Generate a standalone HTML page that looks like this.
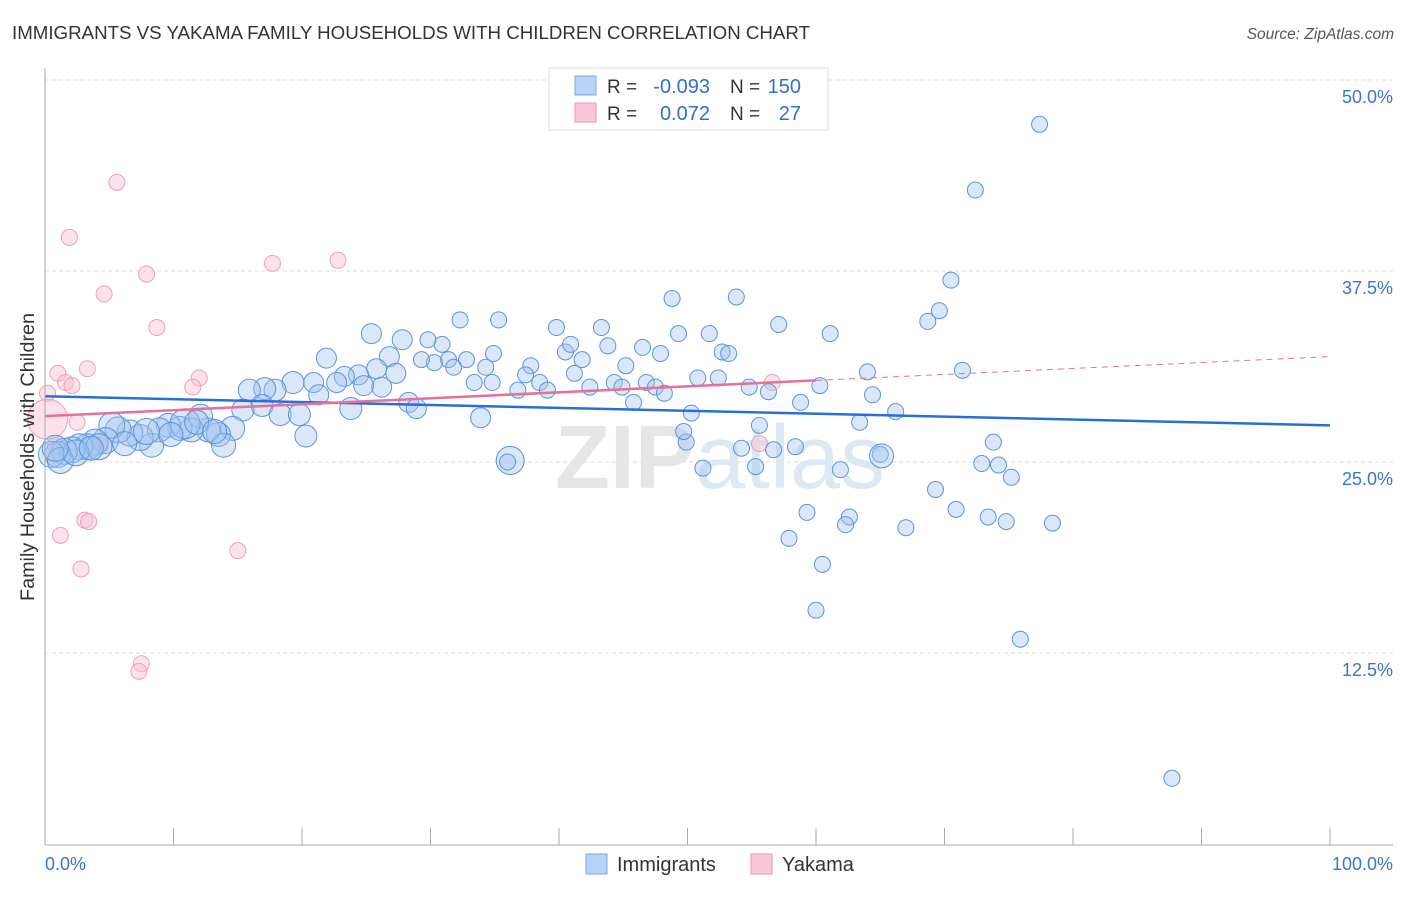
<!DOCTYPE html>
<html><head><meta charset="utf-8"><style>
body{margin:0;background:#fff;font-family:"Liberation Sans",sans-serif}
</style></head><body>
<svg width="1406" height="892" xmlns="http://www.w3.org/2000/svg">
<text x="12" y="39" font-size="18" fill="#333" textLength="798" lengthAdjust="spacingAndGlyphs">IMMIGRANTS VS YAKAMA FAMILY HOUSEHOLDS WITH CHILDREN CORRELATION CHART</text>
<text x="1394" y="39" font-size="15.5" fill="#555" font-style="italic" text-anchor="end">Source: ZipAtlas.com</text>
<g id="grid"></g>
<text x="720" y="488" font-size="90" font-weight="bold" fill="#e6e6e6" text-anchor="middle">ZIP<tspan fill="#dde8f5" font-weight="normal">atlas</tspan></text>
<g id="pts"></g>
<g id="axes"></g>
<text transform="translate(34,457) rotate(-90)" font-size="19.8" fill="#333" text-anchor="middle">Family Households with Children</text>
<g>
<rect x="549" y="68" width="279" height="62" fill="#fff" stroke="#ddd"/>
<rect x="575" y="76" width="21" height="19" fill="#b8d3f5" stroke="#7aa8e6"/>
<rect x="575" y="103" width="21" height="19" fill="#f8c6d5" stroke="#ee9ab3"/>
<text x="607" y="93" font-size="19" fill="#333">R =</text>
<text x="710" y="93" font-size="20" fill="#2f6fd0" text-anchor="end">-0.093</text>
<text x="730" y="93" font-size="19" fill="#333">N =</text>
<text x="801" y="93" font-size="20" fill="#2f6fd0" text-anchor="end">150</text>
<text x="607" y="120" font-size="19" fill="#333">R =</text>
<text x="710" y="120" font-size="20" fill="#2f6fd0" text-anchor="end">0.072</text>
<text x="730" y="120" font-size="19" fill="#333">N =</text>
<text x="801" y="120" font-size="20" fill="#2f6fd0" text-anchor="end">27</text>
</g>
<g>
<rect x="586" y="854" width="21" height="20" fill="#b8d3f5" stroke="#7aa8e6"/>
<text x="617" y="871" font-size="20" fill="#333">Immigrants</text>
<rect x="751" y="854" width="21" height="20" fill="#f8c6d5" stroke="#ee9ab3"/>
<text x="782" y="871" font-size="20" fill="#333">Yakama</text>
</g>
</svg>
<script>
const yTicks=[12.5,25,37.5,50];
const yTickLabels=["12.5%","25.0%","37.5%","50.0%"];
const xTickLabels=["0.0%","100.0%"];
const blueX=[77.4,72.4,70.5,69.6,68.7,71.4,48.8,53.8,57.1,61.1,64.0,64.4,66.2,63.4,65.0,73.8,72.9,74.2,75.2,69.3,70.9,73.4,74.8,78.4,67.0,62.6,62.3,59.3,57.9,60.5,60.0,75.9,87.7,61.9,58.4,56.7,54.2,55.3,51.2,55.6,49.9,50.3,54.8,56.3,58.8,60.3,52.4,50.8,52.7,53.2,51.7,49.3,47.9,46.5,45.2,43.3,43.8,41.8,40.5,40.9,39.8,41.2,42.4,44.3,44.9,46.8,47.5,48.2,45.8,49.7,37.8,37.4,36.8,38.5,39.1,35.3,32.3,34.9,34.3,34.8,33.4,32.8,31.4,31.8,30.9,30.3,29.8,29.3,27.8,26.8,27.3,25.4,25.8,26.2,24.4,24.8,23.3,22.7,21.9,20.9,21.3,19.3,17.9,17.1,15.9,16.9,18.3,19.8,20.3,23.8,28.3,28.9,33.9,36.2,15.4,14.6,13.5,12.7,13.9,12.1,11.4,10.5,9.6,8.9,8.3,7.4,6.6,5.7,5.2,4.7,3.9,3.3,2.7,2.1,1.5,1.0,0.5,1.2,10.9,9.8,6.2,4.2,2.4,7.9,11.8,13.2,3.6,0.8,65.1,36.0];
const blueY=[47.1,42.8,36.9,34.9,34.2,31.0,35.7,35.8,34.0,33.4,30.9,29.4,28.3,27.6,25.5,26.3,24.9,24.8,24.0,23.2,21.9,21.4,21.1,21.0,20.7,21.4,20.9,21.7,20.0,18.3,15.3,13.4,4.3,24.5,26.0,25.8,25.9,24.7,24.6,27.4,26.3,28.2,29.9,29.6,28.9,30.0,30.5,30.5,32.2,32.1,33.4,33.4,32.1,32.5,31.3,33.8,32.6,31.7,32.2,32.7,33.8,30.8,29.9,30.2,29.9,30.2,29.9,29.5,28.9,27.0,31.3,30.7,29.7,30.2,29.7,34.3,34.3,32.1,31.2,30.2,30.2,31.7,31.7,31.2,32.7,31.5,33.0,31.7,33.0,31.9,30.8,33.4,31.1,29.9,30.7,30.0,30.6,30.2,31.8,30.2,29.4,30.2,29.7,29.8,29.7,28.7,28.1,28.1,26.7,28.5,28.9,28.5,27.9,25.1,28.4,27.2,26.8,27.1,26.1,28.0,27.1,27.2,27.4,27.1,26.1,26.6,26.9,27.1,27.4,26.4,26.3,26.0,26.0,25.8,25.7,25.5,25.5,25.1,27.5,26.8,26.2,26.0,25.6,27.0,27.6,27.0,25.9,25.9,25.4,25.0];
const blueR=[8,8,8,8,8,8,8,8,8,8,8,8,8,8,8,8,8,8,8,8,8,8,8,8,8,8,8,8,8,8,8,8,8,8,8,8,8,8,8,8,8,8,8,8,8,8,8,8,8,8,8,8,8,8,8,8,8,8,8,8,8,8,8,8,8,8,8,8,8,8,8,8,8,8,8,8,8,8,8,8,8,8,8,8,8,8,8,8,10,10,10,10,10,10,10,10,10,10,10,10,10,11,11,11,11,11,11,11,11,11,10,10,10,14,11,12,12,12,12,12,12,12,12,12,12,13,13,13,13,13,13,13,13,13,13,13,13,13,15,12,12,13,13,13,12,12,12,13,12,8,10];
const pinkX=[5.6,1.9,22.8,17.7,7.9,4.6,8.7,3.3,1.0,1.6,2.1,12.0,11.5,0.2,56.6,0.2,2.5,55.6,0.8,4.3,3.1,3.4,1.2,15.0,2.8,7.5,7.3];
const pinkY=[43.3,39.7,38.2,38.0,37.3,36.0,33.8,31.1,30.8,30.2,30.0,30.5,29.9,29.5,30.2,27.8,27.6,26.2,26.1,26.1,21.2,21.1,20.2,19.2,18.0,11.8,11.3];
const pinkR=[8,8,8,8,8,8,8,8,8,8,8,8,8,8,8,20,8,8,8,8,8,8,8,8,8,8,8];
const blueTrend=[29.3,27.4];
const pinkTrend=[28.0,31.9];
const pinkSolidEnd=60;
const NS="http://www.w3.org/2000/svg";
const X0=45,X1=1330,Y50=80,PPU=15.28;
const xs=v=>X0+(X1-X0)*v/100;
const ys=v=>Y50+(50-v)*PPU;
function mk(t,a,p){const e=document.createElementNS(NS,t);for(const k in a)e.setAttribute(k,a[k]);p.appendChild(e);return e;}
const grid=document.getElementById('grid'),axes=document.getElementById('axes'),pts=document.getElementById('pts');
yTicks.forEach((v,i)=>{
 const l=mk('line',{x1:X0,x2:1393,y1:ys(v),y2:ys(v),stroke:'#dcdcdc','stroke-dasharray':'4,3'},grid);
 
 
 const t=mk('text',{x:1393,y:ys(v)+23,'font-size':18,fill:'#3a74d0','text-anchor':'end'},axes);
 t.textContent=yTickLabels[i];
 
 
});
const ax=mk('line',{x1:X0,x2:X0,y1:68,y2:845,stroke:'#aaa'},axes);


const bx=mk('line',{x1:X0,x2:1393,y1:845,y2:845,stroke:'#aaa'},axes);


for(let i=0;i<=10;i++){
 const k=mk('line',{x1:xs(i*10),x2:xs(i*10),y1:828,y2:845,stroke:'#aaa'},axes);
 
 
}
[[0,'start',X0],[1,'end',1393]].forEach(([i,a,x])=>{
 const t=mk('text',{x:x,y:870,'font-size':18,fill:'#3a74d0','text-anchor':a},axes);
 t.textContent=xTickLabels[i];
 
 
});
pinkX.forEach((v,i)=>{
 const c=mk('circle',{cx:xs(v),cy:ys(pinkY[i]),r:pinkR[i],fill:'rgba(248,190,208,0.45)',stroke:'#eea0b8','stroke-width':1},pts);
 
 
});
blueX.forEach((v,i)=>{
 const c=mk('circle',{cx:xs(v),cy:ys(blueY[i]),r:blueR[i],fill:'rgba(160,196,240,0.4)',stroke:'#5b93dd','stroke-width':1},pts);
 
 
});
const b=mk('line',{x1:xs(0),y1:ys(blueTrend[0]),x2:xs(100),y2:ys(blueTrend[1]),stroke:'#2a6fd6','stroke-width':2.5},pts);


const pm=pinkTrend[0]+(pinkTrend[1]-pinkTrend[0])*pinkSolidEnd/100;
const p1=mk('line',{x1:xs(0),y1:ys(pinkTrend[0]),x2:xs(pinkSolidEnd),y2:ys(pm),stroke:'#e5709a','stroke-width':2.5},pts);


const p2=mk('line',{x1:xs(pinkSolidEnd),y1:ys(pm),x2:xs(100),y2:ys(pinkTrend[1]),stroke:'#e5709a','stroke-width':1,'stroke-dasharray':'6,5'},pts);


</script>
</body></html>
